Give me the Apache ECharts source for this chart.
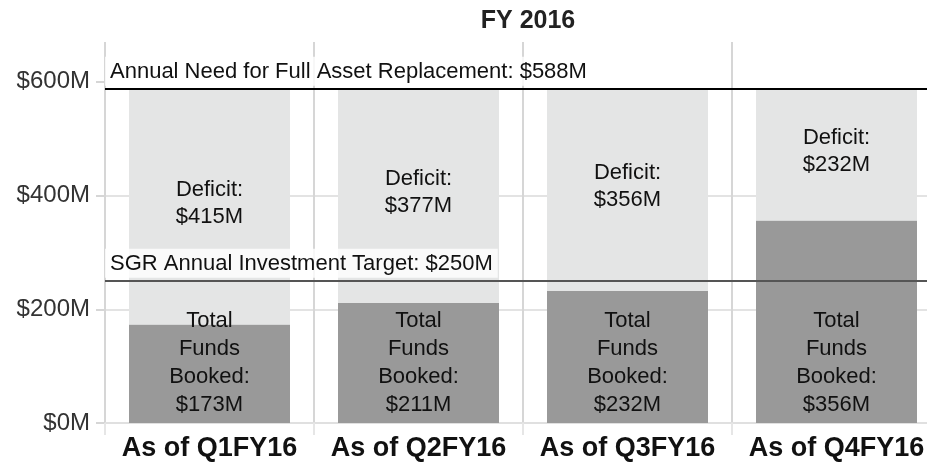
<!DOCTYPE html>
<html>
<head>
<meta charset="utf-8">
<script src="https://cdn.jsdelivr.net/npm/echarts@6/dist/echarts.min.js"></script>
<style>
  html, body { margin: 0; padding: 0; background: #fff; overflow: hidden; }
  /* 右侧最后一列被画面裁掉一截，所以画布比窗口宽 */
  #chart { width: 941px; height: 462px; }
</style>
</head>
<body>
<div id="chart"></div>
<script>
// 数据
const categories = ['As of Q1FY16', 'As of Q2FY16', 'As of Q3FY16', 'As of Q4FY16'];
const fundsBooked = [173, 211, 232, 356];
const deficit = [415, 377, 356, 232];
const annualNeed = 588;
const sgrTarget = 250;
const yTicks = [0, 200, 400, 600];

const font = 'Liberation Sans, Arial, sans-serif';
const chart = echarts.init(document.getElementById('chart'));

let option = {
    animation: false,
    title: {
        text: 'FY 2016',
        left: 523,
        top: 4,
        textAlign: 'center',
        textStyle: {fontFamily: font, fontSize: 25, fontWeight: 'bold', color: '#222'}
    },
    grid: {left: 105, right: 0, top: 42, bottom: 38},
    xAxis: {
        type: 'category',
        data: categories,
        axisLine: {show: true, lineStyle: {color: '#e0e0e0', width: 2}},
        axisTick: {show: true, interval: 0, length: 12, lineStyle: {color: '#e6e6e6', width: 2}},
        splitLine: {show: true, interval: 0, lineStyle: {color: '#d6d6d6', width: 2}},
        axisLabel: {interval: 0, fontFamily: font, fontSize: 27, fontWeight: 'bold', color: '#111', margin: 12}
    },
    yAxis: {
        type: 'value',
        min: 0,
        max: 670,
        interval: 200,
        axisLine: {show: false},
        axisTick: {show: true, length: 9, customValues: yTicks, lineStyle: {color: '#d6d6d6', width: 2}},
        splitLine: {show: true, showMaxLine: false, lineStyle: {color: '#e3e3e3', width: 2}},
        axisLabel: {
            customValues: yTicks,
            fontFamily: font, fontSize: 24, color: '#333', margin: 15,
            formatter: v => '$' + v + 'M'
        }
    },
    series: [
        {
            name: 'Total Funds Booked',
            type: 'bar',
            stack: 'total',
            barWidth: 161,
            data: fundsBooked,
            itemStyle: {color: '#999999'},
            label: {
                show: true,
                position: 'insideBottom',
                distance: 4,
                fontFamily: font, fontSize: 22, lineHeight: 28, color: '#111',
                formatter: p => 'Total\nFunds\nBooked:\n$' + p.value + 'M'
            }
        },
        {
            name: 'Deficit',
            type: 'bar',
            stack: 'total',
            barWidth: 161,
            data: deficit,
            itemStyle: {color: '#e4e5e5'},
            label: {
                show: true,
                position: 'inside',
                offset: [0, -3],
                fontFamily: font, fontSize: 22, lineHeight: 27, color: '#111',
                formatter: p => 'Deficit:\n$' + p.value + 'M'
            },
            markLine: {
                silent: true,
                symbol: 'none',
                z: 5,
                data: [
                    {
                        yAxis: annualNeed,
                        lineStyle: {color: '#000', width: 2, type: 'solid'},
                        label: {formatter: 'Annual Need for Full Asset Replacement: $' + annualNeed + 'M'}
                    },
                    {
                        yAxis: sgrTarget,
                        lineStyle: {color: '#555', width: 2, type: 'solid'},
                        label: {formatter: 'SGR Annual Investment Target: $' + sgrTarget + 'M'}
                    }
                ],
                label: {
                    position: 'insideStartTop',
                    distance: [0, 3],
                    fontFamily: font, fontSize: 22, color: '#111',
                    backgroundColor: 'rgba(255,255,255,0.8)',
                    padding: [4, 5, 3, 5]
                }
            }
        }
    ]
};
chart.setOption(option);
</script>
</body>
</html>
